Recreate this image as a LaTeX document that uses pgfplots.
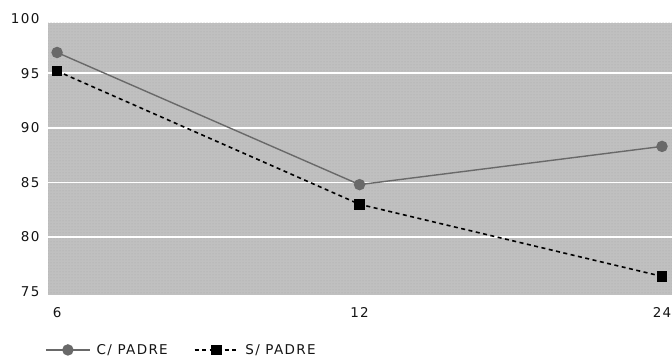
\documentclass[border=0pt]{standalone}
\usepackage{pgfplots}
\pgfplotsset{compat=1.18}
\usepackage{fontspec}
\setmainfont{DejaVu Sans}
\newfontfamily\lblfont{DejaVu Sans}[LetterSpace=10]
\usetikzlibrary{calc,patterns}

\definecolor{panel}{RGB}{192,192,192}
\definecolor{panelDot}{RGB}{168,168,168}
\definecolor{cline}{RGB}{105,105,105}
\definecolor{txt}{RGB}{20,20,20}

\pgfplotstableread{
x  cpadre  spadre
0  96.9    95.2
1  84.8    83.0
2  88.3    76.4
}\datatable

\begin{document}
\begin{tikzpicture}
\begin{axis}[
  set layers,
  scale only axis,
  width=624pt, height=277.4pt,
  xmin=-0.03, xmax=2.033,
  ymin=74.7, ymax=100.1,
  xtick=data, xticklabels={6,12,24},
  ytick={80,85,90,95,100},
  extra y ticks={75},
  extra y tick style={grid=none},
  ymajorgrids,
  grid style={white, line width=1.6pt},
  axis line style={draw=none},
  major tick length=0pt,
  tick label style={font=\lblfont\fontsize{13.5}{15}\selectfont, text=txt},
  /pgf/number format/assume math mode=true,
  xticklabel style={yshift=-9pt},
  yticklabel style={xshift=-5pt},
  legend columns=2,
  legend style={
    at={(0,0)}, anchor=west, yshift=-55pt, xshift=-6pt,
    draw=none, fill=none,
    font=\lblfont\fontsize{13.5}{15}\selectfont, text=txt,
    /tikz/every even column/.append style={column sep=24pt},
  },
  legend image code/.code={
    \draw[mark repeat=2, mark phase=2, #1]
      plot coordinates {(0pt,0pt) (22pt,0pt) (44pt,0pt)};
  },
]
\begin{pgfonlayer}{axis background}
  \fill[panel] (axis cs:-0.03,74.7) rectangle (axis cs:2.033,99.6);
  \fill[pattern=dots, pattern color=panelDot] (axis cs:-0.03,74.7) rectangle (axis cs:2.033,99.6);
\end{pgfonlayer}
\coordinate (sw) at (axis cs:-0.03,74.7);
\coordinate (ne) at (axis cs:2.033,99.6);

\addplot[cline, line width=1.4pt, mark=*, mark size=5pt,
  mark options={solid, fill=cline, draw=cline}]
  table[x=x, y=cpadre] {\datatable};
\addlegendentry{\hspace{4pt}C/ PADRE}

\addplot[black, line width=1.6pt, dash pattern=on 4pt off 3.5pt,
  mark=square*, mark size=4.5pt, mark options={solid, fill=black}]
  table[x=x, y=spadre] {\datatable};
\addlegendentry{\hspace{4pt}S/ PADRE}
\end{axis}
\pgfresetboundingbox
\path[use as bounding box] ($(sw)+(-48pt,-64pt)$) rectangle ($(ne)+(0pt,23pt)$);
\end{tikzpicture}
\end{document}
